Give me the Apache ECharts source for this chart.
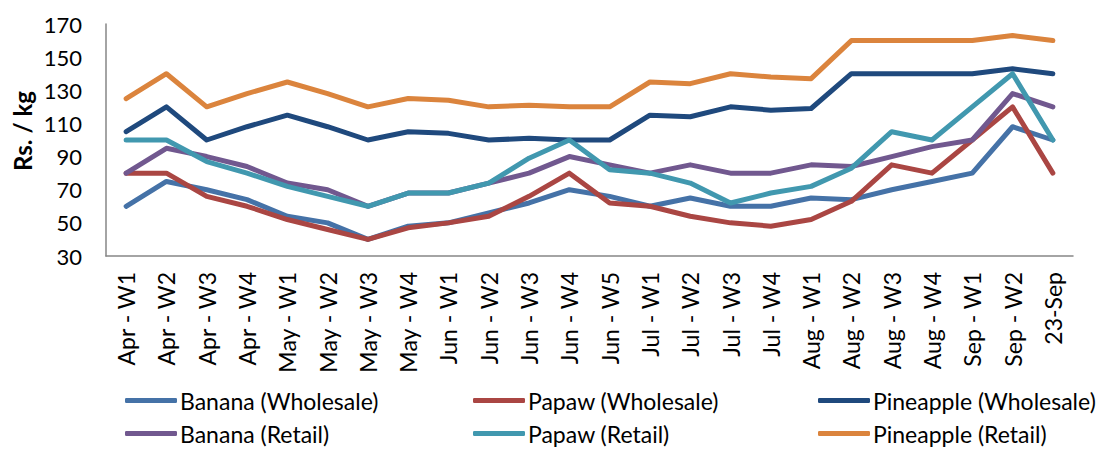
<!DOCTYPE html>
<html>
<head>
<meta charset="utf-8">
<script src="https://cdn.jsdelivr.net/npm/echarts@6/dist/echarts.min.js"></script>
<style>
  html, body { margin: 0; padding: 0; background: #fff; }
  #chart { width: 1104px; height: 450px; }
</style>
</head>
<body>
<div id="chart"></div>
<script>
const categories = ['Apr - W1','Apr - W2','Apr - W3','Apr - W4','May - W1','May - W2','May - W3','May - W4','Jun - W1','Jun - W2','Jun - W3','Jun - W4','Jun - W5','Jul - W1','Jul - W2','Jul - W3','Jul - W4','Aug - W1','Aug - W2','Aug - W3','Aug - W4','Sep - W1','Sep - W2','23-Sep'];
const bananaWholesale    = [60,75,70,64,54,50,40,48,50,56,62,70,66,60,65,60,60,65,64,70,75,80,108,100];
const papawWholesale     = [80,80,66,60,52,46,40,47,50,54,66,80,62,60,54,50,48,52,63,85,80,100,120,80];
const pineappleWholesale = [105,120,100,108,115,108,100,105,104,100,101,100,100,115,114,120,118,119,140,140,140,140,143,140];
const bananaRetail       = [80,95,90,84,74,70,60,68,68,74,80,90,85,80,85,80,80,85,84,90,96,100,128,120];
const papawRetail        = [100,100,87,80,72,66,60,68,68,74,89,100,82,80,74,62,68,72,83,105,100,120,140,100];
const pineappleRetail    = [125,140,120,128,135,128,120,125,124,120,121,120,120,135,134,140,138,137,160,160,160,160,163,160];
const seriesNames = ['Banana (Wholesale)','Papaw (Wholesale)','Pineapple (Wholesale)','Banana (Retail)','Papaw (Retail)','Pineapple (Retail)'];
const seriesData = [bananaWholesale, papawWholesale, pineappleWholesale, bananaRetail, papawRetail, pineappleRetail];
const colors = ['#4572A7','#AA4643','#1F497D','#71588F','#4198AF','#DB843D'];
const yTitle = 'Rs. / kg';

const FONT = 'Lato';
const chart = echarts.init(document.getElementById('chart'), null, { renderer: 'svg' });

function legendCol(left, names) {
  return {
    orient: 'vertical', left: left, top: 384, itemGap: 10,
    itemWidth: 52, itemHeight: 5, icon: 'roundRect',
    data: names,
    textStyle: { fontFamily: FONT, fontSize: 23, color: '#000', padding: [0,0,0,-2] }
  };
}

chart.setOption({
  animation: false,
  color: colors,
  grid: { left: 106, right: 31, top: 24, bottom: 194, containLabel: false },
  legend: [
    legendCol(120, [seriesNames[0], seriesNames[3]]),
    legendCol(468, [seriesNames[1], seriesNames[4]]),
    legendCol(813, [seriesNames[2], seriesNames[5]])
  ],
  graphic: [{
    type: 'text', x: 22, y: 131, rotation: Math.PI / 2,
    style: { text: yTitle, font: 'bold 24px ' + FONT, fill: '#000', align: 'center', verticalAlign: 'middle' }
  }],
  xAxis: {
    type: 'category', data: categories, boundaryGap: true,
    axisLine: { lineStyle: { color: '#868686', width: 1.5 } },
    axisTick: { show: false },
    axisLabel: { rotate: 90, interval: 0, margin: 16, fontFamily: FONT, fontSize: 23, color: '#000' }
  },
  yAxis: {
    type: 'value', min: 30, max: 170, interval: 20,
    axisLine: { show: true, lineStyle: { color: '#868686', width: 1.5 } },
    axisTick: { show: false },
    splitLine: { show: false },
    axisLabel: { margin: 24, fontFamily: FONT, fontSize: 22, color: '#000' }
  },
  series: seriesNames.map((n, i) => ({
    name: n, type: 'line', data: seriesData[i], symbol: 'none',
    lineStyle: { width: 5, color: colors[i], cap: 'round', join: 'round' },
    itemStyle: { color: colors[i] }
  }))
});
</script>
</body>
</html>
